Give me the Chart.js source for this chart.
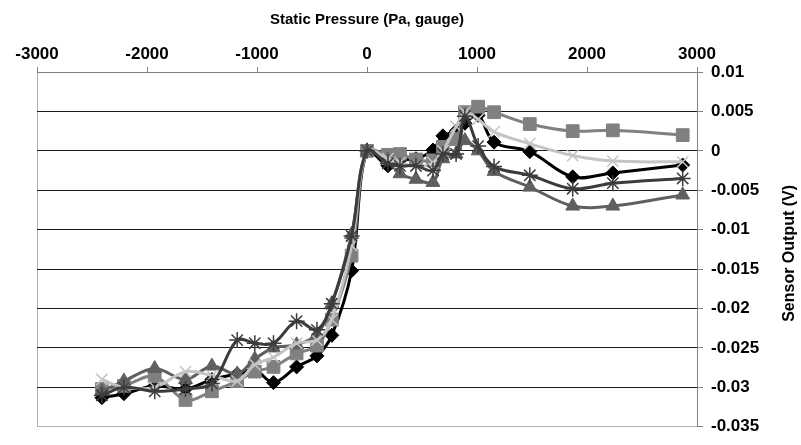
<!DOCTYPE html>
<html>
<head>
<meta charset="utf-8">
<script src="https://cdn.jsdelivr.net/npm/chart.js@4.4.1/dist/chart.umd.min.js"></script>
<style>
  html, body { margin: 0; padding: 0; background: #fff; }
  #wrap { width: 801px; height: 445px; }
</style>
</head>
<body>
<div id="wrap"><canvas id="chart"></canvas></div>
<script>
// Static pressure (Pa, gauge), shared by every run
const pressure = [-2410, -2210, -1930, -1650, -1410, -1180, -1020, -850, -640, -455, -320, -140, 0,
  190, 300, 445, 600, 690, 810, 890, 1010, 1155, 1480, 1870, 2235, 2870];

// Sensor output (V) for each run
const runDiamond = [-0.0313, -0.0308, -0.0298, -0.0302, -0.0290, -0.0283, -0.0278, -0.0294, -0.0274, -0.0260, -0.0234, -0.0152, 0,
  -0.0019, -0.0012, -0.0010, 0.0001, 0.0019, 0.0025, 0.0035, 0.0045, 0.0011, -0.0001, -0.0033, -0.0028, -0.0018];
const runSquare = [-0.0302, -0.0298, -0.0286, -0.0316, -0.0305, -0.0292, -0.0280, -0.0274, -0.0257, -0.0247, -0.0214, -0.0133, 0,
  -0.0005, -0.0004, -0.0011, -0.0012, 0.0005, 0.0015, 0.0049, 0.0056, 0.0049, 0.0034, 0.0025, 0.0026, 0.0020];
const runTriangle = [-0.0305, -0.0292, -0.0276, -0.0290, -0.0273, -0.0283, -0.0264, -0.0250, -0.0246, -0.0233, -0.0194, -0.0106, 0,
  -0.0012, -0.0029, -0.0036, -0.0040, -0.0010, -0.0004, 0.0013, 0.0000, -0.0026, -0.0046, -0.0070, -0.0070, -0.0056];
const runCross = [-0.0290, -0.0300, -0.0300, -0.0280, -0.0285, -0.0292, -0.0271, -0.0262, -0.0244, -0.0240, -0.0214, -0.0120, 0,
  -0.0010, -0.0015, -0.0020, -0.0015, 0.0000, 0.0031, 0.0049, 0.0040, 0.0024, 0.0009, -0.0006, -0.0013, -0.0014];
const runStar = [-0.0310, -0.0300, -0.0305, -0.0302, -0.0295, -0.0240, -0.0244, -0.0244, -0.0216, -0.0227, -0.0194, -0.0108, 0,
  -0.0016, -0.0019, -0.0019, -0.0025, -0.0004, -0.0004, 0.0044, 0.0006, -0.0020, -0.0031, -0.0048, -0.0041, -0.0035];

const xTicks = [-3000, -2000, -1000, 0, 1000, 2000, 3000];
const yTicks = [0.01, 0.005, 0, -0.005, -0.01, -0.015, -0.02, -0.025, -0.03, -0.035];

const FONT = "'Liberation Sans', Arial, sans-serif";
Chart.defaults.font.family = FONT;
Chart.defaults.color = "#000";

const toPoints = (ys) => pressure.map((x, i) => ({ x, y: ys[i] }));

function series(label, ys, color, style, radius, order) {
  return {
    label,
    data: toPoints(ys),
    borderColor: color,
    backgroundColor: color,
    pointStyle: style,
    pointRadius: radius,
    pointBorderWidth: style === "crossRot" || style === "star" ? 1.5 : 1,
    borderWidth: 3,
    tension: 0.35,
    order,
  };
}

// Rotated right-hand axis title, reads bottom to top
const yTitle = {
  id: "yTitle",
  afterDraw(chart) {
    const { ctx, chartArea } = chart;
    ctx.save();
    ctx.translate(790, (chartArea.top + chartArea.bottom) / 2 + 4);
    ctx.rotate(-Math.PI / 2);
    ctx.font = "bold 16px " + FONT;
    ctx.fillStyle = "#000";
    ctx.textAlign = "center";
    ctx.textBaseline = "middle";
    ctx.fillText("Sensor Output (V)", 0, 0);
    ctx.restore();
  },
};

new Chart(document.getElementById("chart"), {
  type: "line",
  data: {
    datasets: [
      series("Run 1", runDiamond, "#000000", "rectRot", 7, 5),
      series("Run 2", runSquare, "#808080", "rect", 9, 4),
      series("Run 3", runTriangle, "#5f5f5f", "triangle", 8, 3),
      series("Run 4", runCross, "#c4c4c4", "crossRot", 8, 2),
      series("Run 5", runStar, "#3c3c3c", "star", 8, 1),
    ],
  },
  options: {
    responsive: true,
    maintainAspectRatio: false,
    animation: false,
    layout: { padding: { left: 37, right: 22, top: 0, bottom: 14 } },
    plugins: { legend: { display: false }, tooltip: { enabled: false } },
    scales: {
      x: {
        type: "linear",
        position: "top",
        min: -3000,
        max: 3000,
        afterFit: (s) => { s.height = 72; },
        afterBuildTicks: (s) => { s.ticks = xTicks.map((v) => ({ value: v })); },
        ticks: {
          font: { size: 17, weight: "bold" },
          padding: 2,
          callback: (v) => String(v),
        },
        title: {
          display: true,
          text: "Static Pressure (Pa, gauge)",
          font: { size: 15, weight: "bold" },
          padding: { top: 11, bottom: 0 },
        },
        border: { color: "#808080", width: 1 },
        grid: {
          color: (c) => (c.tick && c.tick.value === -3000 ? "#b0b0b0" : "transparent"),
          tickColor: "#808080",
          tickLength: 5,
        },
      },
      y: {
        position: "right",
        min: -0.035,
        max: 0.01,
        afterFit: (s) => { s.width = 82; },
        afterBuildTicks: (s) => { s.ticks = yTicks.map((v) => ({ value: v })); },
        ticks: {
          font: { size: 17, weight: "bold" },
          padding: 8,
          callback: (v) => {
            const t = parseFloat(Number(v).toFixed(4));
            return t === 0 ? "0" : String(t);
          },
        },
        border: { color: "#808080", width: 1 },
        grid: {
          color: (c) => (c.tick && Math.abs(c.tick.value + 0.035) < 1e-9 ? "#b0b0b0" : "#1a1a1a"),
          tickColor: "#808080",
          tickLength: 6,
        },
      },
    },
  },
  plugins: [yTitle],
});
</script>
</body>
</html>
